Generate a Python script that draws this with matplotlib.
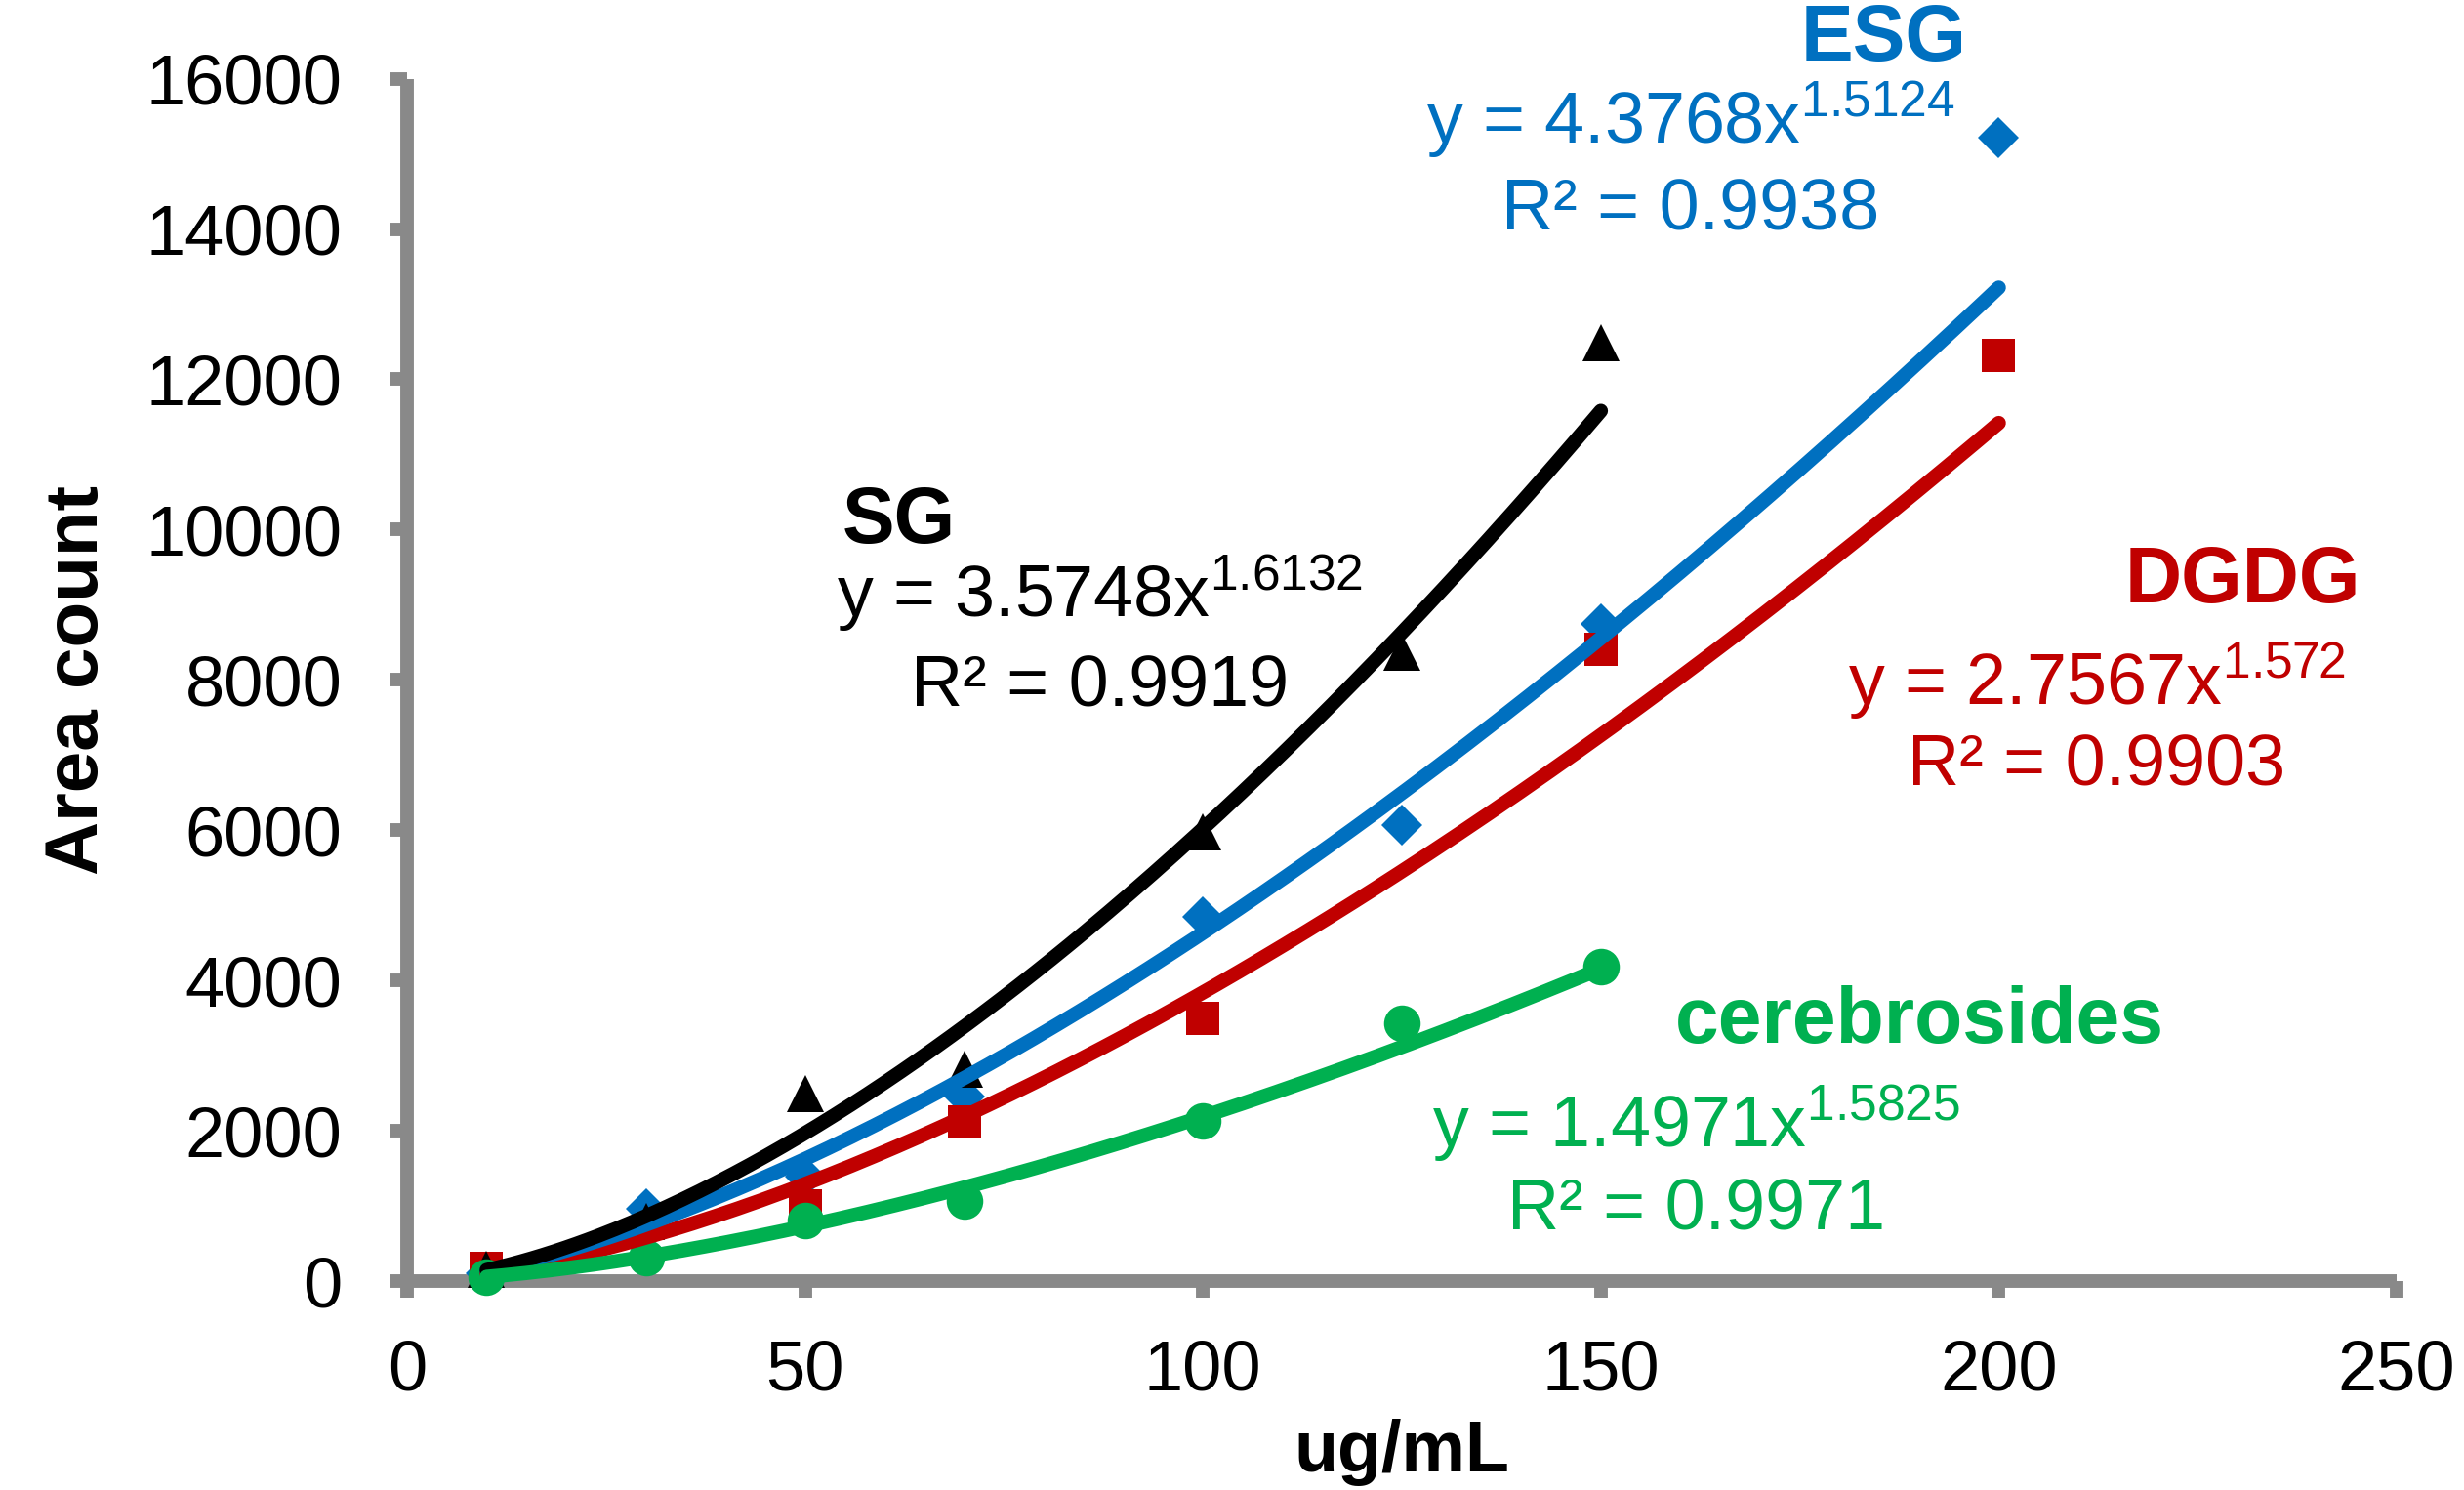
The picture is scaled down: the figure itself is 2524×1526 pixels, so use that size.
import numpy as np
import matplotlib
matplotlib.use('Agg')
import matplotlib.pyplot as plt

plt.rcParams['font.family'] = ['Liberation Sans', 'DejaVu Sans']
plt.rcParams['mathtext.fontset'] = 'custom'
plt.rcParams['mathtext.rm'] = 'Liberation Sans'
plt.rcParams['mathtext.it'] = 'Liberation Sans'

# measured points (ug/mL vs area count)
sg_x = [10, 30, 50, 70, 100, 125, 150]
sg_y = [160, 790, 2490, 2820, 5980, 8370, 12490]
esg_x = [10, 30, 50, 70, 100, 125, 150, 200]
esg_y = [100, 960, 1390, 2450, 4850, 6070, 8750, 15210]
dgdg_x = [10, 50, 70, 100, 150, 200]
dgdg_y = [170, 1000, 2120, 3490, 8410, 12320]
cer_x = [10, 30, 50, 70, 100, 125, 150]
cer_y = [50, 310, 800, 1070, 2130, 3430, 4180]

# power trendline coefficients y = a * x^b, R^2
sg_fit = (3.5748, 1.6132, 0.9919)
esg_fit = (4.3768, 1.5124, 0.9938)
dgdg_fit = (2.7567, 1.572, 0.9903)
cer_fit = (1.4971, 1.5825, 0.9971)

black = '#000000'
blue = '#0070C0'
red = '#C00000'
green = '#00B050'
grey = '#898989'

fig = plt.figure(figsize=(25.24, 15.26), dpi=100)
ax = fig.add_axes([0.1652, 0.1402, 0.8075, 0.807])

series = [
    (esg_x, esg_y, esg_fit, blue, 'D', 21, 3, 8),
    (dgdg_x, dgdg_y, dgdg_fit, red, 's', 24, 4, 7),
    (sg_x, sg_y, sg_fit, black, '^', 28, 5, 9),
    (cer_x, cer_y, cer_fit, green, 'o', 27, 6, 10),
]
for xs, ys, fit, c, m, ms, zm, zl in series:
    ax.plot(xs, ys, linestyle='none', marker=m, markersize=ms, color=c,
            markeredgewidth=0, zorder=zm, clip_on=False)
    xx = np.linspace(min(xs), max(xs), 200)
    ax.plot(xx, fit[0] * xx ** fit[1], color=c, linewidth=10.5,
            solid_capstyle='round', zorder=zl, clip_on=False)

ax.set_xlim(0, 250)
ax.set_ylim(0, 16000)
ax.set_xticks(np.arange(0, 251, 50))
ax.set_yticks(np.arange(0, 16001, 2000))

for s in ['top', 'right']:
    ax.spines[s].set_visible(False)
for s in ['left', 'bottom']:
    ax.spines[s].set_color(grey)
    ax.spines[s].set_linewidth(10)
    ax.spines[s].set_capstyle('butt')
ax.tick_params(axis='both', direction='out', length=12, width=10, color=grey,
               labelsize=52)
ax.tick_params(axis='y', pad=36)
ax.tick_params(axis='x', pad=31)

ax.set_xlabel('ug/mL', fontsize=53, fontweight='bold', labelpad=10)
ax.set_ylabel('Area count', fontsize=55, fontweight='bold', labelpad=24)

fs = 53
fs_name = 58


def eq(fit):
    return 'y = %sx$^{\\mathrm{%s}}$' % (format(fit[0]), format(fit[1]))


def label(name, nx, ny, fit, x, y1, y2, c):
    ax.text(nx, ny, name, color=c, fontsize=fs_name, fontweight='bold',
            ha='center', va='center', clip_on=False)
    ax.text(x, y1, eq(fit), color=c, fontsize=fs, ha='center', va='center',
            clip_on=False)
    ax.text(x, y2, 'R² = %s' % fit[2], color=c, fontsize=fs, ha='center',
            va='center', clip_on=False)


label('SG', 61.8, 10100, sg_fit, 87, 9150, 7900, black)
label('ESG', 185.6, 16520, esg_fit, 161.3, 15450, 14250, blue)
label('DGDG', 230.6, 9300, dgdg_fit, 212.3, 7980, 6850, red)
label('cerebrosides', 190, 3450, cer_fit, 162, 2100, 940, green)

fig.savefig('out.png', dpi=100)
